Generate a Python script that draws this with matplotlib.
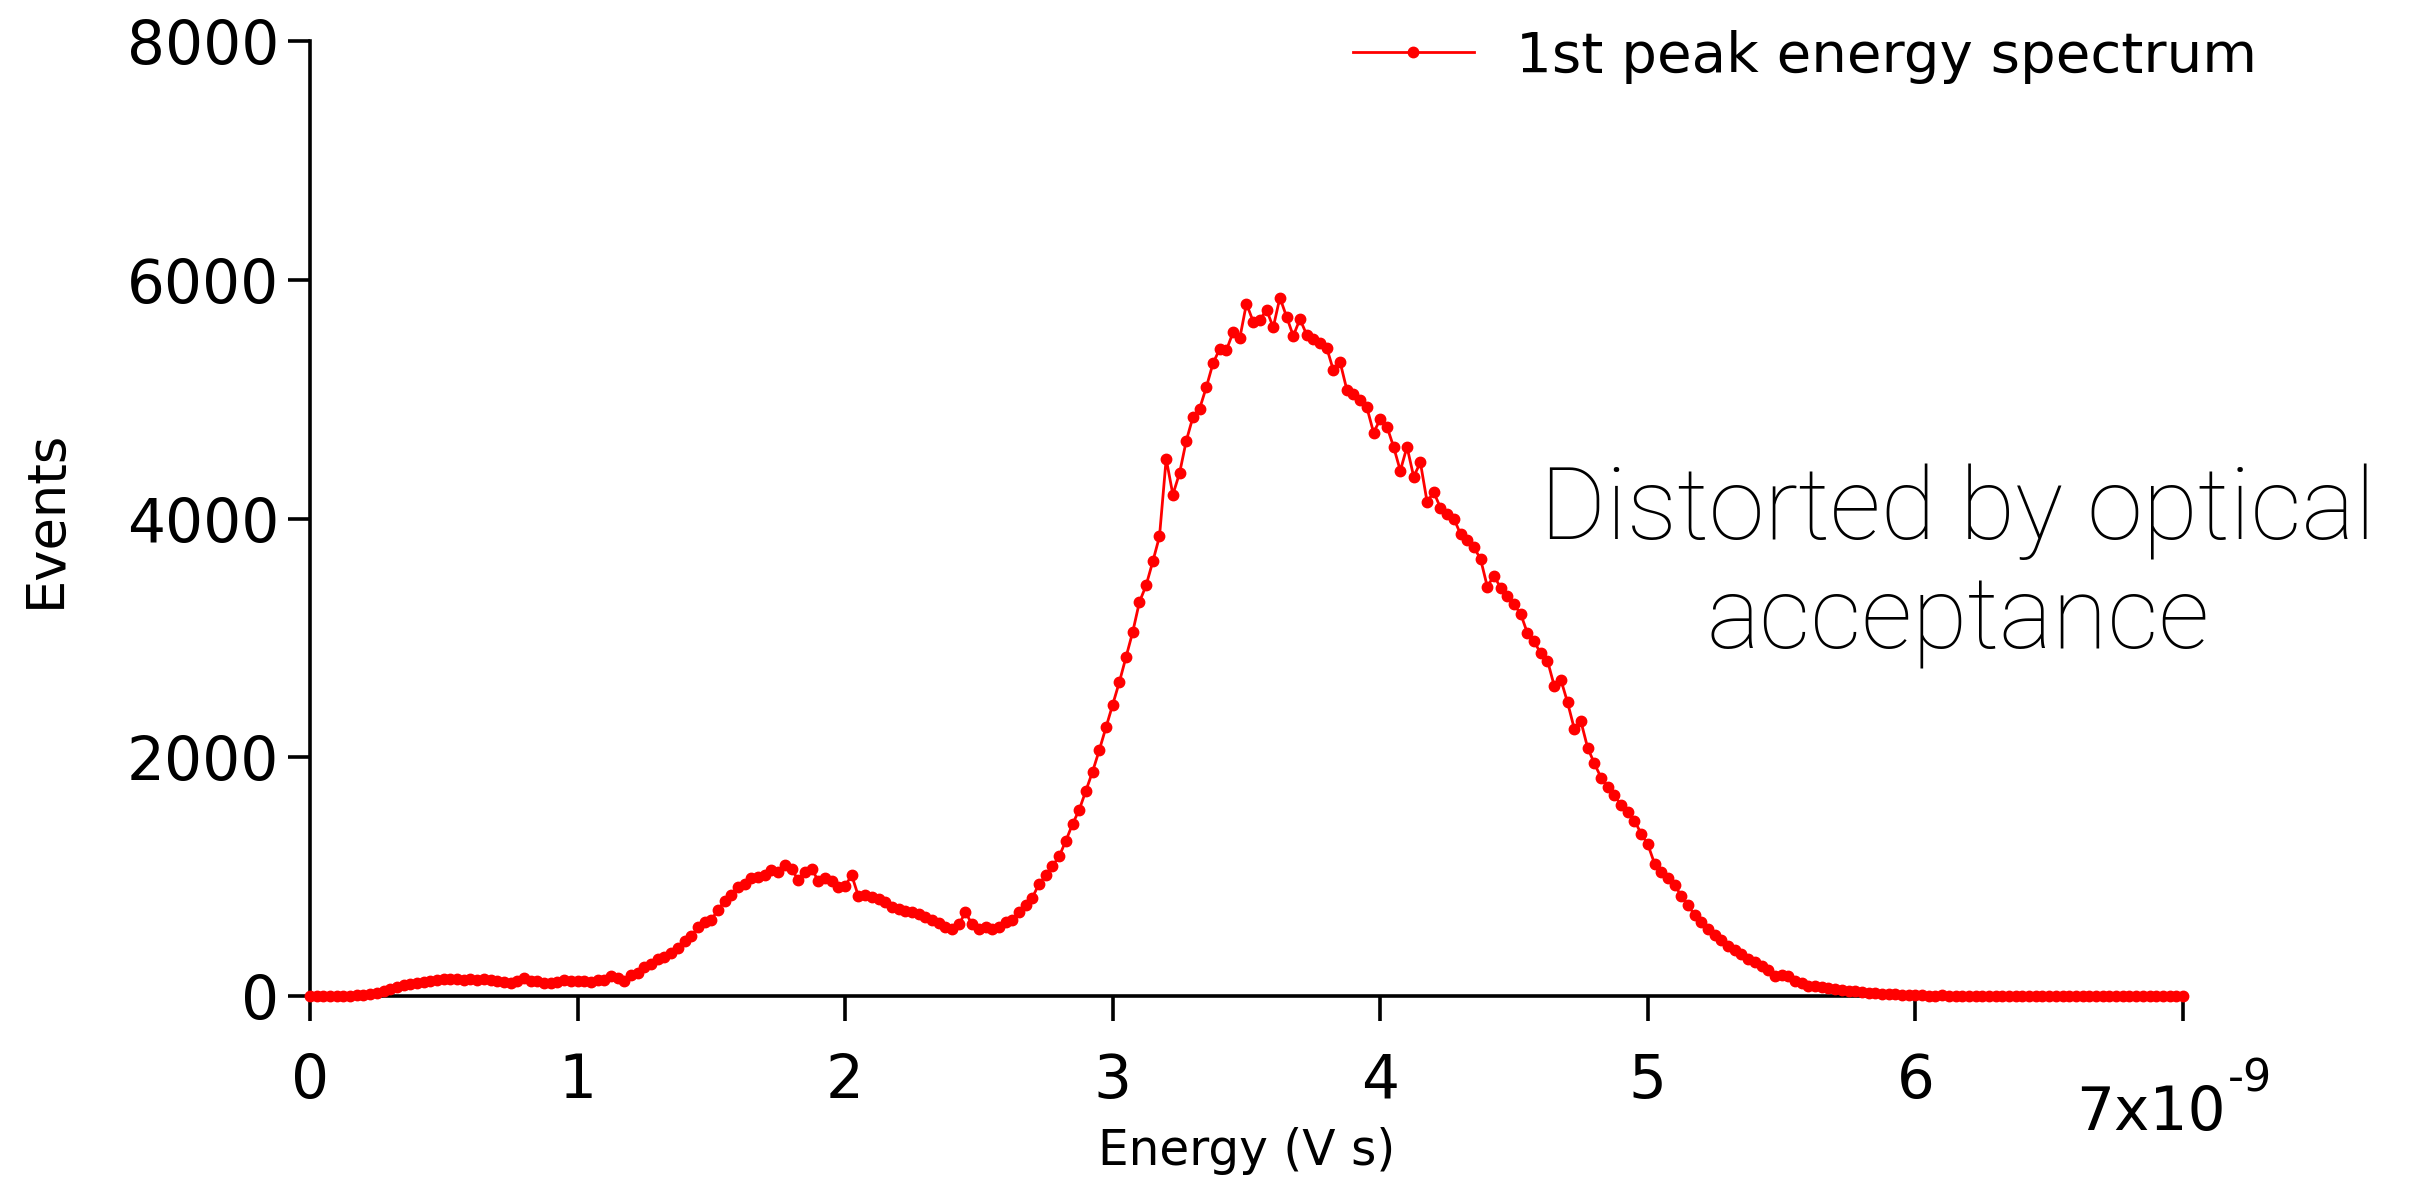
import matplotlib
matplotlib.use("Agg")
import matplotlib.pyplot as plt
import numpy as np

# histogram of the first peak energy, bin width 0.025e-9 V s, starting at 0
bin_width = 0.025
events = [
    0, 0, 0, 0, 2, 3, 4, 6, 8, 14,
    25, 45, 60, 72, 92, 100, 108, 120, 126, 132,
    140, 145, 146, 138, 142, 136, 140, 132, 128, 118,
    108, 130, 150, 128, 122, 105, 110, 118, 135, 125,
    122, 128, 118, 135, 138, 170, 150, 130, 172, 195,
    240, 270, 310, 330, 360, 400, 465, 500, 575, 620,
    640, 720, 800, 850, 915, 935, 985, 995, 1010, 1058,
    1040, 1100, 1060, 975, 1040, 1065, 965, 990, 965, 910,
    925, 1010, 835, 850, 830, 810, 790, 745, 725, 712,
    700, 685, 660, 640, 615, 575, 560, 600, 700, 600,
    560, 575, 565, 580, 620, 640, 700, 760, 825, 940,
    1010, 1090, 1170, 1300, 1440, 1560, 1720, 1880, 2060, 2250,
    2440, 2630, 2840, 3050, 3300, 3440, 3640, 3850, 4500, 4200,
    4380, 4650, 4850, 4920, 5100, 5300, 5420, 5410, 5560, 5510,
    5800, 5650, 5660, 5750, 5600, 5850, 5690, 5530, 5670, 5540,
    5500, 5470, 5430, 5240, 5310, 5080, 5040, 4990, 4930, 4720,
    4830, 4770, 4600, 4400, 4600, 4350, 4470, 4140, 4220, 4090,
    4040, 4000, 3870, 3820, 3760, 3660, 3430, 3520, 3420, 3350,
    3280, 3200, 3040, 2970, 2870, 2810, 2600, 2650, 2460, 2240,
    2300, 2080, 1950, 1830, 1750, 1680, 1600, 1540, 1470, 1360,
    1270, 1110, 1040, 990, 930, 840, 760, 680, 620, 560,
    515, 470, 420, 385, 350, 310, 285, 255, 215, 170,
    175, 165, 130, 105, 85, 80, 72, 68, 60, 48,
    42, 38, 30, 28, 24, 20, 18, 14, 12, 8,
    6, 5, 4, 3, 5, 2, 4, 3, 2, 3,
    4, 2, 3, 1, 2, 3, 2, 1, 3, 2,
    2, 1, 2, 3, 1, 2, 1, 2, 2, 1,
    1, 2, 1, 1, 2, 1, 1, 0, 1, 1,
    1,
]
energy = np.arange(len(events)) * bin_width  # in units of 1e-9 V s

x_ticks = [0, 1, 2, 3, 4, 5, 6, 7]
x_tick_labels = ["0", "1", "2", "3", "4", "5", "6", ""]
last_tick_mantissa = "7x10"
last_tick_exponent = "-9"
y_ticks = [0, 2000, 4000, 6000, 8000]

plt.rcParams["font.family"] = ["DejaVu Sans"]

fig = plt.figure(figsize=(24.1, 11.91), dpi=100)
ax = fig.add_axes([0.1286, 0.1637, 0.7772, 0.8019])

ax.plot(energy, events, color="#ff0000", lw=2.0, marker="o", ms=7.5,
        mec="#ff0000", mfc="#ff0000", clip_on=False, zorder=3,
        label="1st peak energy spectrum")

ax.set_xlim(0, 7)
ax.set_ylim(0, 8000)
ax.set_xticks(x_ticks)
ax.set_xticklabels(x_tick_labels)
ax.set_yticks(y_ticks)

for side in ["top", "right"]:
    ax.spines[side].set_visible(False)
for side in ["left", "bottom"]:
    ax.spines[side].set_linewidth(2.6)
ax.tick_params(axis="x", direction="out", length=18, width=2.6, pad=22, labelsize=43)
ax.tick_params(axis="y", direction="out", length=16, width=2.6, pad=6, labelsize=43)

# last x tick label drawn Igor style: mantissa dropped, exponent raised
ax.annotate(last_tick_mantissa, xy=(7, 0), xycoords="data", xytext=(31, -63),
            textcoords="offset points", ha="right", va="top", fontsize=43,
            annotation_clip=False)
ax.annotate(last_tick_exponent, xy=(7, 0), xycoords="data", xytext=(32, -44),
            textcoords="offset points", ha="left", va="top", fontsize=32,
            annotation_clip=False)

ax.set_xlabel("Energy (V s)", fontsize=35, labelpad=12)
ax.set_ylabel("Events", fontsize=38, labelpad=40)

fig.legend(loc="center left", bbox_to_anchor=(0.5614, 0.952), frameon=False,
           fontsize=40.5, handlelength=2.15, handletextpad=0.75,
           borderpad=0, borderaxespad=0)

ax.text(6.16, 3600, "Distorted by optical\nacceptance", ha="center", va="center",
        fontsize=72.5, family="Roboto", fontweight="light", linespacing=1.17)

fig.savefig("out.png", dpi=100)
